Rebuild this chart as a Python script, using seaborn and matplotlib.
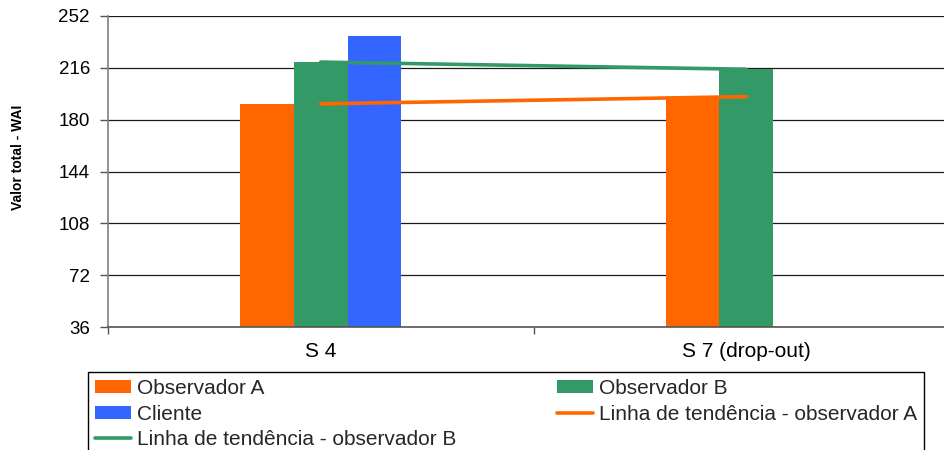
import numpy as np
import pandas as pd
import matplotlib
matplotlib.use("Agg")
import matplotlib.pyplot as plt
import seaborn as sns
from matplotlib.patches import Patch
from matplotlib.lines import Line2D

# Session totals per rater
sessions = ["S 4", "S 7 (drop-out)"]
observador_a = [191, 196]
observador_b = [220, 215]
cliente = [238, np.nan]

series_names = ["Observador A", "Observador B", "Cliente"]
series_colors = ["#FF6600", "#339966", "#3366FF"]
trend_labels = ["Linha de tendência - observador A",
                "Linha de tendência - observador B"]
y_ticks = [36, 72, 108, 144, 180, 216, 252]
y_label = "Valor total - WAI"

sns.set_theme(style="white")
plt.rcParams["font.family"] = ["Liberation Sans", "DejaVu Sans"]

df = pd.DataFrame({
    "sessao": sessions * 3,
    "serie": np.repeat(series_names, len(sessions)),
    "valor": observador_a + observador_b + cliente,
})

W, H = 944, 450
fig = plt.figure(figsize=(W / 100, H / 100), dpi=100)
ax = fig.add_axes([108 / W, 123 / H, 851 / W, 311 / H])

sns.barplot(data=df, x="sessao", y="valor", hue="serie",
            order=sessions, hue_order=series_names, palette=series_colors,
            width=0.378, gap=0, saturation=1, errorbar=None,
            edgecolor="none", linewidth=0,
            legend=False, ax=ax, zorder=2)

# Linear trend of each observer across the two sessions
xpos = np.arange(len(sessions))
for vals, col in [(observador_a, series_colors[0]), (observador_b, series_colors[1])]:
    sns.regplot(x=xpos, y=vals, scatter=False, ci=None, truncate=True,
                color=col, line_kws={"lw": 2.6, "zorder": 4}, ax=ax)

ax.set_xlim(-0.5, len(sessions) - 0.5)
ax.set_ylim(y_ticks[0], y_ticks[-1])
ax.set_yticks(y_ticks)
ax.set_xticks(xpos)
ax.set_xticklabels(sessions)
ax.set_xticks(np.arange(len(sessions) + 1) - 0.5, minor=True)

ax.set_axisbelow(True)
ax.yaxis.grid(True, color="#1a1a1a", lw=0.9)
ax.xaxis.grid(False)

for side in ["top", "right"]:
    ax.spines[side].set_visible(False)
ax.spines["left"].set_color("#808080")
ax.spines["left"].set_linewidth(1.2)
ax.spines["bottom"].set_color("#555555")
ax.spines["bottom"].set_linewidth(1.2)

ax.tick_params(axis="y", which="major", left=True, direction="out", length=6,
               width=1, color="#555555", pad=7, labelsize=13.5, labelcolor="black")
ax.tick_params(axis="x", which="major", bottom=False, length=0, pad=11,
               labelsize=15, labelcolor="black")
ax.tick_params(axis="x", which="minor", bottom=True, direction="out", length=5,
               width=1, color="#555555")

ax.set_xlabel("")
ax.set_ylabel(y_label, fontsize=10, fontweight="bold", color="black")
ax.yaxis.set_label_coords((25 - 108) / 851, 0.547)

fs = 15
fpx = fs * 100 / 72
bar_handles = [Patch(facecolor=c, edgecolor="none") for c in series_colors]
line_handles = [Line2D([], [], color=series_colors[0], lw=2.6),
                Line2D([], [], color=series_colors[1], lw=2.6)]
handles = [bar_handles[0], bar_handles[2], line_handles[1],
           bar_handles[1], line_handles[0]]
labels = [series_names[0], series_names[2], trend_labels[1],
          series_names[1], trend_labels[0]]
leg = fig.legend(handles, labels, ncol=2, loc="upper left", mode="expand",
                 bbox_to_anchor=(88 / W, 1 - 372 / H, (924 - 88) / W, 0),
                 bbox_transform=fig.transFigure, borderaxespad=0,
                 fontsize=fs, frameon=True, fancybox=False, framealpha=1,
                 edgecolor="black", borderpad=0.35,
                 handlelength=36 / fpx, handleheight=12 / fpx,
                 handletextpad=6 / fpx, labelspacing=0.3)
leg.get_frame().set_linewidth(1.0)

fig.savefig("out.png", dpi=100, facecolor="white")
